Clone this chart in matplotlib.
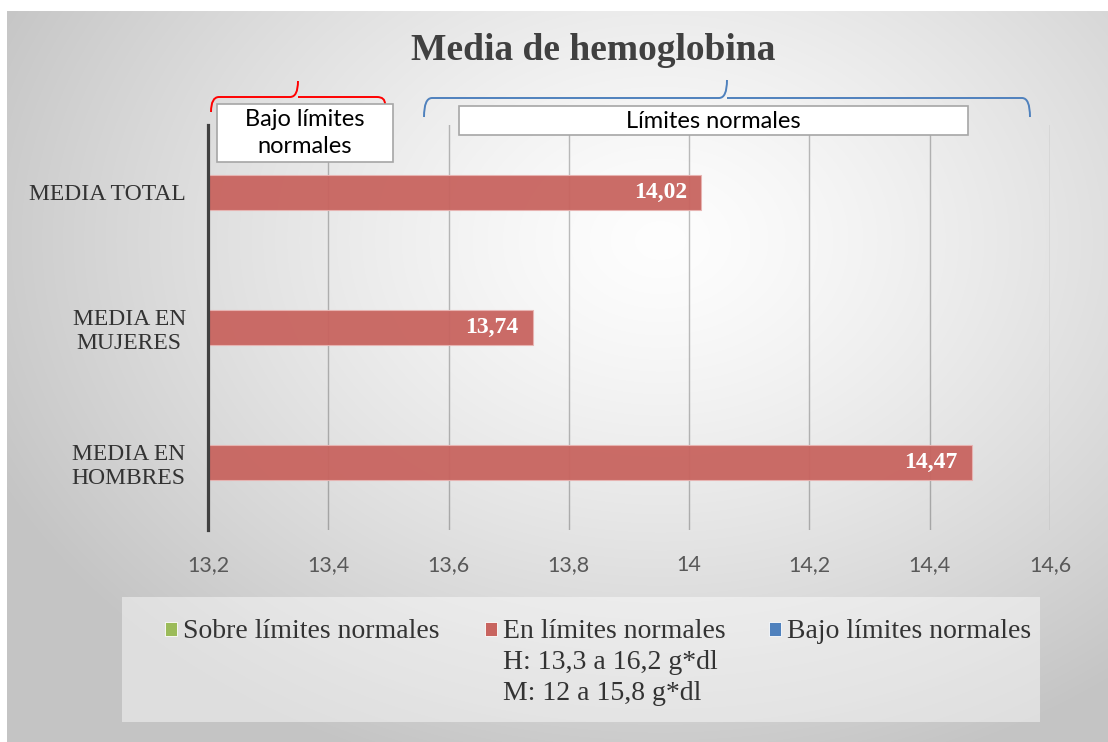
import numpy as np
import matplotlib
matplotlib.use('Agg')
import matplotlib.pyplot as plt
from matplotlib.patches import Rectangle, PathPatch
from matplotlib.path import Path

# datos
categorias = ['MEDIA EN\nHOMBRES', 'MEDIA EN\nMUJERES', 'MEDIA TOTAL']
valores = [14.47, 13.74, 14.02]
etiquetas = ['14,47', '13,74', '14,02']
ticks_x = [13.2, 13.4, 13.6, 13.8, 14.0, 14.2, 14.4, 14.6]
ticks_txt = ['13,2', '13,4', '13,6', '13,8', '14', '14,2', '14,4', '14,6']
leyenda = ['Sobre límites normales', 'En límites normales', 'Bajo límites normales']
leyenda_extra = ['H: 13,3 a 16,2 g*dl', 'M: 12 a 15,8 g*dl']
colores = ['#9BBB59', '#C8645F', '#4F81BD']

SERIF = 'Liberation Serif'
SANS = 'Lato'

W, H = 1108, 742
fig = plt.figure(figsize=(W / 100, H / 100), dpi=100)
fig.patch.set_facecolor('white')

# fondo con degradado radial, coordenadas en pixeles
bg = fig.add_axes([0, 0, 1, 1], zorder=0)
bg.set_xlim(0, W)
bg.set_ylim(H, 0)
bg.axis('off')
yy, xx = np.mgrid[0:H, 0:W]
d = np.sqrt(((xx - 660) / 620.0) ** 2 + ((yy - 240) / 470.0) ** 2)
b = np.clip(0.995 - 0.18 * d ** 1.3, 0.77, 1.0)
img = np.dstack([b, b, b])
img[:11, :, :] = 1.0
img[:, :7, :] = 1.0
bg.imshow(img, extent=(0, W, H, 0), interpolation='bilinear', aspect='auto')

# caja de la leyenda
bg.add_patch(Rectangle((122, 597), 918, 125, facecolor='white', alpha=0.45,
                       edgecolor='none'))

# titulo
bg.text(593, 50, 'Media de hemoglobina', fontsize=27, fontweight='bold',
        family=SERIF, color='#404040', ha='center', va='center')


def llave(ax, x0, x1, xm, ybase, ytip, y0, y1, color):
    r = 8
    verts = [(x0, y0), (x0, ybase), (x0 + r, ybase),
             (xm - r, ybase), (xm, ybase), (xm, ytip),
             (xm, ybase), (xm + r, ybase),
             (x1 - r, ybase), (x1, ybase), (x1, y1)]
    codes = [Path.MOVETO, Path.CURVE3, Path.CURVE3,
             Path.LINETO, Path.CURVE3, Path.CURVE3,
             Path.MOVETO, Path.LINETO,
             Path.LINETO, Path.CURVE3, Path.CURVE3]
    ax.add_patch(PathPatch(Path(verts, codes), facecolor='none',
                           edgecolor=color, lw=1.4, zorder=5))


# grafico de barras
ax = fig.add_axes([208 / W, 1 - 530 / H, 842 / W, 405 / H], zorder=2)
ax.patch.set_alpha(0)
y = np.arange(len(categorias))
ax.barh(y, valores, left=0, height=0.26, color=colores[1], alpha=0.95,
        edgecolor='#E8B4B2', lw=0.8, zorder=3)
ax.set_xlim(13.2, 14.6)
ax.set_ylim(-0.5, 2.5)
ax.set_xticks(ticks_x)
ax.set_xticklabels(ticks_txt, family=SANS, fontsize=15.5, color='#595959')
ax.set_yticks(y)
ax.set_yticklabels(categorias, family=SERIF, fontsize=17, color='#333333',
                   multialignment='center')
ax.tick_params(axis='both', length=0)
ax.tick_params(axis='x', pad=18)
ax.tick_params(axis='y', pad=16)
ax.grid(axis='x', color='black', alpha=0.25, lw=1, zorder=1)
ax.set_axisbelow(True)
for s in ['top', 'right', 'bottom']:
    ax.spines[s].set_visible(False)
ax.spines['left'].set_color('#404040')
ax.spines['left'].set_linewidth(2.3)
ax.spines['left'].set_zorder(4)

for yi, v, t in zip(y, valores, etiquetas):
    ax.annotate(t, xy=(v, yi), xytext=(-14, 0), textcoords='offset pixels',
                ha='right', va='center', color='white', fontweight='bold',
                family=SERIF, fontsize=17, zorder=4)

# anotaciones superiores: llaves y cuadros
top = fig.add_axes([0, 0, 1, 1], zorder=3)
top.set_xlim(0, W)
top.set_ylim(H, 0)
top.axis('off')
llave(top, 211, 385, 298, 97, 81, 112, 104, '#FF0000')
llave(top, 424, 1030, 727, 98, 80, 117, 117, '#4F81BD')
top.add_patch(Rectangle((217, 104), 176, 58, facecolor='white',
                        edgecolor='#A6A6A6', lw=1.2, zorder=6))
top.text(305, 133, 'Bajo límites\nnormales', family=SANS, fontsize=17,
         color='black', ha='center', va='center', linespacing=1.35, zorder=7)
top.add_patch(Rectangle((459, 106), 509, 29, facecolor='white',
                        edgecolor='#A6A6A6', lw=1.2, zorder=6))
top.text(713, 121, 'Límites normales', family=SANS, fontsize=17,
         color='black', ha='center', va='center', zorder=7)

# leyenda
pos_ley = [165, 485, 769]
for px, lab, col in zip(pos_ley, leyenda, colores):
    top.add_patch(Rectangle((px, 622), 12, 14, facecolor=col,
                            edgecolor='white', lw=0.6, zorder=6))
    top.text(px + 18, 638, lab, family=SERIF, fontsize=20, color='#333333',
             ha='left', va='baseline', zorder=7)
for i, lab in enumerate(leyenda_extra):
    top.text(503, 669 + 31 * i, lab, family=SERIF, fontsize=20, color='#333333',
             ha='left', va='baseline', zorder=7)

fig.savefig('out.png', dpi=100)
